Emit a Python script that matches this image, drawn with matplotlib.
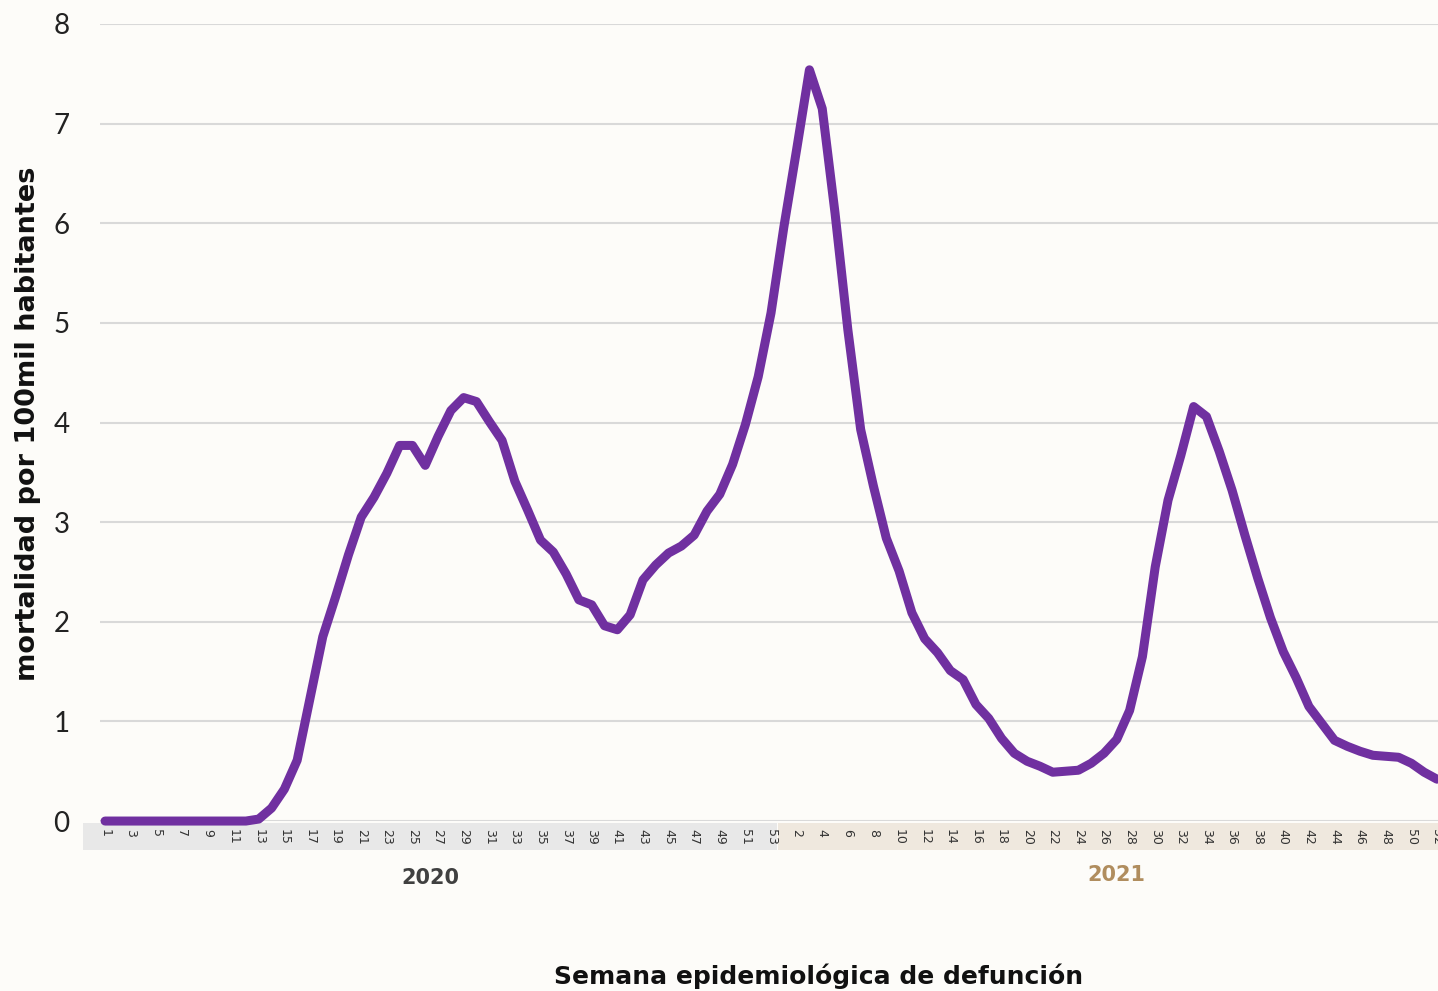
import numpy as np
import matplotlib.pyplot as plt
from matplotlib.patches import Rectangle
from matplotlib.transforms import blended_transform_factory

# semanas epidemiologicas 2020 (1-53) y 2021 (1-52)
weeks_2020 = list(range(1, 54))
weeks_2021 = list(range(1, 53))

mort_2020 = [0, 0, 0, 0, 0, 0, 0, 0, 0, 0, 0, 0, 0.02, 0.13, 0.32, 0.61, 1.23, 1.85,
             2.25, 2.67, 3.05, 3.25, 3.49, 3.77, 3.77, 3.57, 3.86, 4.12, 4.25, 4.21,
             4.01, 3.82, 3.41, 3.12, 2.82, 2.70, 2.48, 2.22, 2.17, 1.96, 1.92, 2.07,
             2.42, 2.57, 2.69, 2.76, 2.87, 3.11, 3.28, 3.58, 3.98, 4.46, 5.10]
mort_2021 = [5.96, 6.74, 7.54, 7.15, 6.10, 4.93, 3.93, 3.36, 2.84, 2.51, 2.09, 1.83,
             1.69, 1.51, 1.42, 1.17, 1.03, 0.83, 0.68, 0.60, 0.55, 0.49, 0.50, 0.51,
             0.58, 0.68, 0.82, 1.11, 1.65, 2.55, 3.22, 3.67, 4.16, 4.06, 3.71, 3.32,
             2.87, 2.44, 2.04, 1.70, 1.44, 1.15, 0.98, 0.81, 0.75, 0.70, 0.66, 0.65,
             0.64, 0.58, 0.49, 0.42]

weeks = weeks_2020 + weeks_2021
mort = mort_2020 + mort_2021
idx = np.arange(len(weeks))

purple = "#7030a0"

fig = plt.figure(figsize=(14.38, 9.91), dpi=100)
fig.patch.set_facecolor("#fdfcf9")
ax = fig.add_axes([0.0695, 0.1715, 0.9305, 0.8043])
ax.set_facecolor("none")

ax.set_xlim(-0.4, 104.08)
ax.set_ylim(0, 8)
ax.set_yticks(range(0, 9))
ax.grid(axis="y", color="#d9d9d9", linewidth=1.5)
ax.set_axisbelow(True)
for s in ax.spines.values():
    s.set_visible(False)

# bandas de los años debajo del eje
trans = blended_transform_factory(ax.transData, ax.transAxes)
n20 = len(weeks_2020)
ax.add_patch(Rectangle((-1.72, -0.0364), n20 - 0.5 + 1.72, 0.034, transform=trans,
                       facecolor="#e8e8e8", edgecolor="none", clip_on=False, zorder=0))
ax.add_patch(Rectangle((n20 - 0.45, -0.0364), 104.5 - n20 + 0.45, 0.034, transform=trans,
                       facecolor="#efe8de", edgecolor="none", clip_on=False, zorder=0))

ax.plot(idx, mort, color=purple, linewidth=6.5, solid_capstyle="round",
        solid_joinstyle="round", clip_on=False, zorder=3)

ax.set_xticks(idx[::2])
ax.set_xticklabels([str(w) for w in weeks[::2]], rotation=270, fontsize=9,
                   color="#333333", family="DejaVu Sans")
ax.tick_params(axis="x", length=0, pad=6)
ax.tick_params(axis="y", length=0, pad=22)
for lab in ax.get_yticklabels():
    lab.set_family("Lato")
    lab.set_fontsize(20)
    lab.set_color("#222222")

ax.text(25.4, -0.0715, "2020", transform=trans, ha="center", va="center",
        fontsize=15, fontweight="bold", color="#404040")
ax.text(79.0, -0.0678, "2021", transform=trans, ha="center", va="center",
        fontsize=15, fontweight="bold", color="#b08d5e")

fig.text(0.569, 0.015, "Semana epidemiológica de defunción", ha="center", va="center",
         fontsize=18, fontweight="bold", color="#111111")
fig.text(0.0195, 0.572, "mortalidad por 100mil habitantes", rotation=90, ha="center",
         va="center", fontsize=19.5, fontweight="bold", color="#111111")

fig.savefig("out.png", dpi=100, facecolor=fig.get_facecolor())
